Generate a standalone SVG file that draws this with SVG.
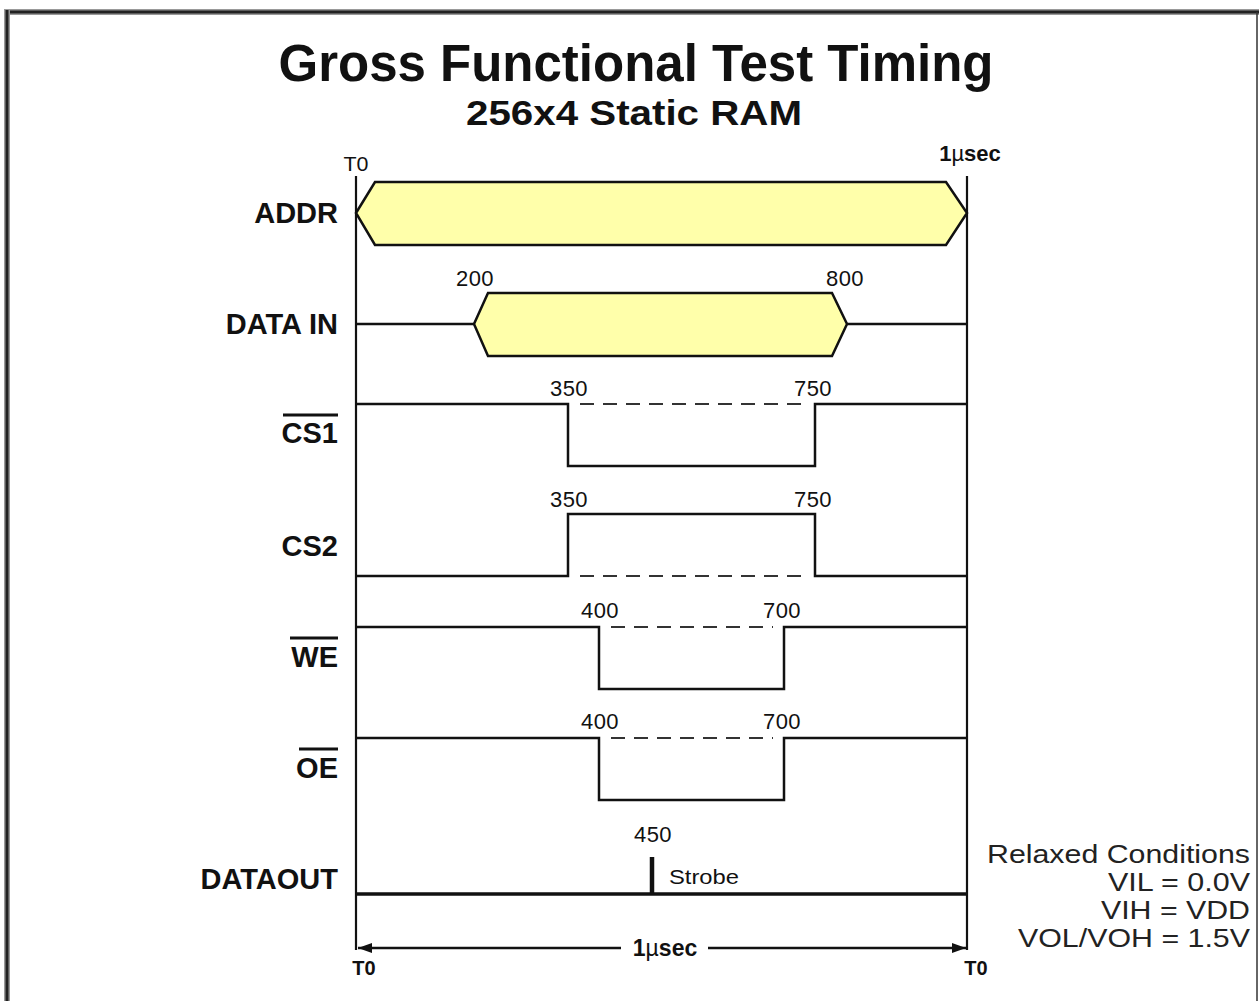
<svg xmlns="http://www.w3.org/2000/svg" width="1259" height="1001" viewBox="0 0 1259 1001">
<defs>
<style>
.lbl{font-family:"Liberation Sans",Arial,sans-serif;font-weight:bold;font-size:29px;fill:#111;text-anchor:end}
.num{font-family:"Liberation Sans",Arial,sans-serif;font-size:22px;fill:#111;text-anchor:middle;letter-spacing:0.5px}
.sig{fill:none;stroke:#111;stroke-width:2.5;stroke-linejoin:miter}
.dash{fill:none;stroke:#333;stroke-width:2;stroke-dasharray:14 9}
.bus{fill:#ffffaa;stroke:#111;stroke-width:2.5;stroke-linejoin:miter}
.ov{stroke:#111;stroke-width:3}
.rc{font-family:"Liberation Sans",Arial,sans-serif;font-size:25px;fill:#222;text-anchor:end}
</style>
<marker id="ah" viewBox="0 0 14 10" refX="14" refY="5" markerWidth="14" markerHeight="10" markerUnits="userSpaceOnUse" orient="auto-start-reverse">
<path d="M0,0 L14,5 L0,10 Z" fill="#111"/>
</marker>
</defs>
<rect x="0" y="0" width="1259" height="1001" fill="#fff"/>
<g id="frame">
<line x1="4" y1="12" x2="1259" y2="12" stroke="#999" stroke-width="6"/>
<line x1="4" y1="12" x2="1259" y2="12" stroke="#222" stroke-width="3"/>
<line x1="7" y1="10" x2="7" y2="1001" stroke="#999" stroke-width="6"/>
<line x1="7" y1="10" x2="7" y2="1001" stroke="#222" stroke-width="3"/>
<line x1="1257" y1="12" x2="1257" y2="1001" stroke="#333" stroke-width="1.5"/>
</g>
<g id="title">
<text x="636" y="81" font-family="Liberation Sans,Arial,sans-serif" font-weight="bold" font-size="51" text-anchor="middle" fill="#111">Gross Functional Test Timing</text>
<text x="634" y="125" font-family="Liberation Sans,Arial,sans-serif" font-weight="bold" font-size="35" text-anchor="middle" fill="#111" textLength="336" lengthAdjust="spacingAndGlyphs">256x4 Static RAM</text>
</g>
<g id="axis">
<line x1="356" y1="176" x2="356" y2="950" stroke="#111" stroke-width="2.2"/>
<line x1="967" y1="176" x2="967" y2="950" stroke="#111" stroke-width="2.2"/>
<text x="356" y="171" font-family="Liberation Sans,Arial,sans-serif" font-size="21" text-anchor="middle" fill="#111" textLength="25" lengthAdjust="spacingAndGlyphs">T0</text>
<text x="970" y="161" font-family="Liberation Sans,Arial,sans-serif" font-weight="bold" font-size="22" text-anchor="middle" fill="#111">1<tspan font-weight="normal">µ</tspan>sec</text>
</g>
<g id="addr">
<text class="lbl" x="338" y="223">ADDR</text>
<polygon class="bus" points="356,213 375,182 946,182 967,213 946,245 375,245"/>
</g>
<g id="datain">
<text class="lbl" x="338" y="334">DATA IN</text>
<path class="sig" d="M356,324 H474 M847,324 H967"/>
<polygon class="bus" points="474,324 488,293 832,293 847,324 832,356 488,356"/>
<text class="num" x="475" y="286">200</text>
<text class="num" x="845" y="286">800</text>
</g>
<g id="cs1">
<text class="lbl" x="338" y="443">CS1</text>
<line class="ov" x1="283" y1="415" x2="338" y2="415"/>
<path class="sig" d="M356,404 H568 V466 H815 V404 H967"/>
<line class="dash" x1="580" y1="404" x2="808" y2="404"/>
<text class="num" x="569" y="396">350</text>
<text class="num" x="813" y="396">750</text>
</g>
<g id="cs2">
<text class="lbl" x="338" y="556">CS2</text>
<path class="sig" d="M356,576 H568 V514 H815 V576 H967"/>
<line class="dash" x1="580" y1="576" x2="808" y2="576"/>
<text class="num" x="569" y="507">350</text>
<text class="num" x="813" y="507">750</text>
</g>
<g id="we">
<text class="lbl" x="338" y="667">WE</text>
<line class="ov" x1="290" y1="638" x2="338" y2="638"/>
<path class="sig" d="M356,627 H599 V689 H784 V627 H967"/>
<line class="dash" x1="611" y1="627" x2="773" y2="627"/>
<text class="num" x="600" y="618">400</text>
<text class="num" x="782" y="618">700</text>
</g>
<g id="oe">
<text class="lbl" x="338" y="778">OE</text>
<line class="ov" x1="299" y1="749" x2="338" y2="749"/>
<path class="sig" d="M356,738 H599 V800 H784 V738 H967"/>
<line class="dash" x1="611" y1="738" x2="773" y2="738"/>
<text class="num" x="600" y="729">400</text>
<text class="num" x="782" y="729">700</text>
</g>
<g id="dataout">
<text class="lbl" x="338" y="889">DATAOUT</text>
<line x1="356" y1="894" x2="967" y2="894" stroke="#111" stroke-width="3.5"/>
<line x1="652" y1="857" x2="652" y2="894" stroke="#111" stroke-width="4.5"/>
<text class="num" x="653" y="842">450</text>
<text x="669" y="884" font-family="Liberation Sans,Arial,sans-serif" font-size="21" fill="#111" textLength="70" lengthAdjust="spacingAndGlyphs">Strobe</text>
</g>
<g id="connectors">
<line x1="358" y1="948" x2="621" y2="948" stroke="#111" stroke-width="2.5" marker-start="url(#ah)"/>
<line x1="708" y1="948" x2="966" y2="948" stroke="#111" stroke-width="2.5" marker-end="url(#ah)"/>
</g>
<g id="bottom">
<text x="665" y="956" font-family="Liberation Sans,Arial,sans-serif" font-weight="bold" font-size="23" text-anchor="middle" fill="#111">1<tspan font-weight="normal">µ</tspan>sec</text>
<text x="364" y="975" font-family="Liberation Sans,Arial,sans-serif" font-weight="bold" font-size="20" text-anchor="middle" fill="#111">T0</text>
<text x="976" y="975" font-family="Liberation Sans,Arial,sans-serif" font-weight="bold" font-size="20" text-anchor="middle" fill="#111">T0</text>
</g>
<g id="conditions">
<text class="rc" x="1250" y="863" textLength="263" lengthAdjust="spacingAndGlyphs">Relaxed Conditions</text>
<text class="rc" x="1250" y="891" textLength="142" lengthAdjust="spacingAndGlyphs">VIL = 0.0V</text>
<text class="rc" x="1250" y="919" textLength="149" lengthAdjust="spacingAndGlyphs">VIH = VDD</text>
<text class="rc" x="1250" y="947" textLength="232" lengthAdjust="spacingAndGlyphs">VOL/VOH = 1.5V</text>
</g>
</svg>
